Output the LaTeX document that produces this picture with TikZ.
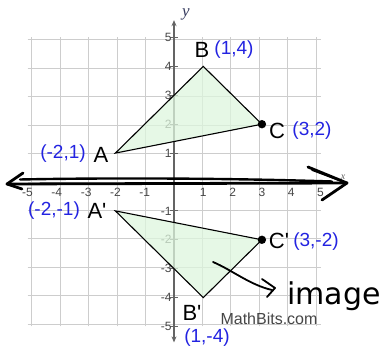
\documentclass[tikz,border=0pt]{standalone}
\usepackage{fontspec}
\usetikzlibrary{arrows.meta}
\newfontfamily\lab{Liberation Sans}
\newfontfamily\labit{Liberation Serif}[ItalicFont={Liberation Serif Italic}]
\newfontfamily\hand{DejaVu Sans}
\definecolor{gridgray}{RGB}{205,205,205}
\definecolor{axisgray}{RGB}{100,100,100}
\definecolor{ticktext}{RGB}{70,70,70}
\definecolor{tgreen}{RGB}{222,246,222}
\definecolor{coordblue}{RGB}{35,35,225}
\definecolor{ylab}{RGB}{55,60,95}
\begin{document}
\begin{tikzpicture}[x=1pt,y=-1pt,
  gridline/.style={draw=gridgray,line width=0.9pt},
  yaxis/.style={draw=axisgray,line width=1.5pt},
  ticklab/.style={font=\lab\fontsize{12}{12}\selectfont,text=ticktext,inner sep=0pt},
  ptlab/.style={font=\lab\fontsize{22}{22}\selectfont,text=black,inner sep=0pt},
  coordlab/.style={font=\lab\fontsize{19}{19}\selectfont,text=coordblue,inner sep=0pt},
  tri/.style={draw=black,line width=1.1pt,line join=miter},
  trifill/.style={fill=tgreen,fill opacity=0.75},
  handline/.style={draw=black,line width=2.8pt,line cap=round,line join=round},
  handpen/.style={draw=black,line width=1.8pt,line cap=round,line join=round}]
\useasboundingbox (0,0) rectangle (381,347);
\fill[white] (0,0) rectangle (381,347);
\begin{scope}[shift={(174,182)},x=29.3pt,y=28.9pt]
  \draw[gridline] (-5,-5) grid (5,5);
  \draw[yaxis,{Stealth[length=6pt,width=5pt]}-{Stealth[length=6pt,width=5pt]}] (0,-5.55) -- (0,5.6);
  \foreach \k in {-5,-4,-3,-2,-1,1,2,3,4,5}{
    \draw[axisgray,line width=1pt] (-0.12,\k) -- (0.12,\k);
    \node[ticklab,anchor=east] at (-0.08,\k) {\k};
    \node[ticklab,anchor=north] at (\k,-0.2) {\k};
  }
  \coordinate (A) at (-2,1);
  \coordinate (B) at (1,4);
  \coordinate (C) at (3,2);
  \coordinate (Ap) at (-2,-1);
  \coordinate (Bp) at (1,-4);
  \coordinate (Cp) at (3,-2);
  \fill[trifill] (A) -- (B) -- (C) -- cycle;
  \fill[trifill] (Ap) -- (Bp) -- (Cp) -- cycle;
  \draw[tri] (A) -- (B) -- (C) -- cycle;
  \draw[tri] (Ap) -- (Bp) -- (Cp) -- cycle;
  \fill[black] (C) circle (4.2pt);
  \fill[black] (Cp) circle (4.2pt);
\end{scope}
% axis labels
\node[font=\labit\itshape\fontsize{17}{17}\selectfont,text=ylab,inner sep=0pt] (ylabel) at (186,14) {y};
\node[font=\labit\itshape\fontsize{10}{10}\selectfont,text=axisgray,inner sep=0pt] (xlabel) at (343,177) {x};
% hand-drawn x axis
\coordinate (xl) at (7,184);
\coordinate (xr) at (347,183);
\draw[handline] (xl) -- (xr);
\draw[handline,line width=2.4pt] (20,179.5) .. controls (120,177.5) and (240,178.5) .. (332,181.5);
\draw[handline] (23,173) -- (xl) -- (22,189);
\draw[handline] (308,167) -- (xr) -- (322,200);
\draw[handline,line width=1.8pt] (312,170) -- (344,182);
% point labels
\node[ptlab] (lA) at (101,155) {A};
\node[coordlab] (cA) at (63,154) {(-2,1)};
\node[ptlab] (lB) at (202,50) {B};
\node[coordlab] (cB) at (234,50) {(1,4)};
\node[ptlab] (lC) at (277,131) {C};
\node[coordlab] (cC) at (312,131) {(3,2)};
\node[ptlab] (lAp) at (97,211) {A'};
\node[coordlab] (cAp) at (54,211) {(-2,-1)};
\node[ptlab] (lCp) at (279,241) {C'};
\node[coordlab] (cCp) at (316,242) {(3,-2)};
\node[ptlab] (lBp) at (192,313) {B'};
\node[coordlab] (cBp) at (207,338) {(1,-4)};
\node[font=\lab\fontsize{16}{16}\selectfont,text=ticktext,inner sep=0pt] (mb) at (269,319) {MathBits.com};
% annotation
\node[font=\hand\fontsize{30}{30}\selectfont,anchor=base west,inner sep=0pt] (img) at (287,305) {image};
\coordinate (s) at (213,262);
\coordinate (e) at (272,290);
\draw[handpen] (s) .. controls (232,270) and (250,285) .. (e);
\draw[handpen] (262,279) -- (275,288) -- (267,297);
\end{tikzpicture}
\end{document}
